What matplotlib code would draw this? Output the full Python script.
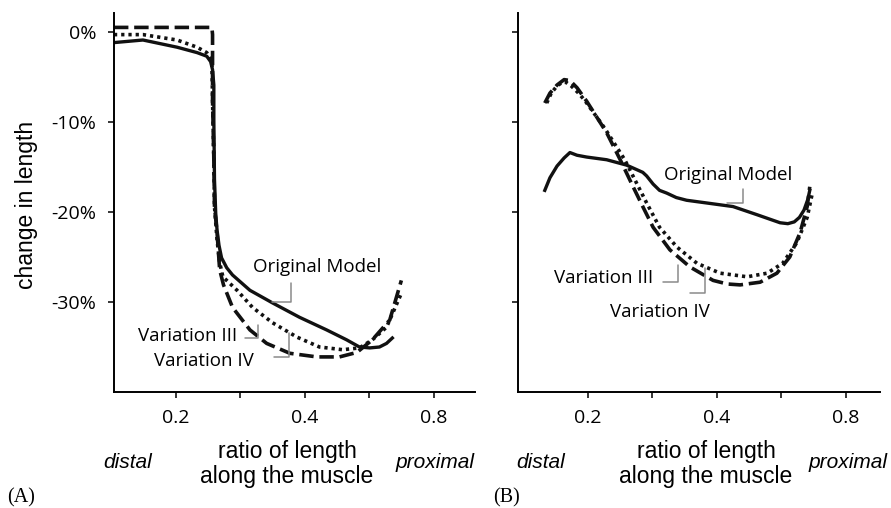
import matplotlib
matplotlib.use("Agg")
import matplotlib.pyplot as plt

# panel (A): ratio along muscle vs change in length (%)
a_orig_x = [0.102, 0.149, 0.202, 0.233, 0.248, 0.254, 0.257, 0.259, 0.259, 0.260, 0.262,
            0.264, 0.267, 0.271, 0.279, 0.288, 0.315, 0.350, 0.392, 0.434, 0.465, 0.485,
            0.501, 0.516, 0.527, 0.536]
a_orig_y = [-1.2, -0.9, -1.7, -2.3, -2.7, -3.3, -4.2, -5.9, -9.8, -16.4, -20.3,
            -22.0, -23.7, -25.1, -26.2, -27.0, -28.7, -30.1, -31.7, -33.1, -34.2, -35.0,
            -35.1, -35.0, -34.6, -34.0]

a_var3_x = [0.104, 0.149, 0.202, 0.233, 0.248, 0.256, 0.257, 0.259, 0.260, 0.264, 0.268,
            0.273, 0.295, 0.319, 0.350, 0.388, 0.423, 0.459, 0.485, 0.505, 0.527, 0.549]
a_var3_y = [-0.3, -0.3, -0.9, -1.7, -2.3, -3.3, -7.6, -14.2, -19.4, -23.1, -25.6,
            -27.2, -28.7, -30.6, -32.3, -33.9, -35.0, -35.3, -35.1, -34.2, -32.8, -29.2]

a_var4_x = [0.104, 0.256, 0.257, 0.257, 0.259, 0.260, 0.264, 0.268, 0.274, 0.288, 0.315,
            0.341, 0.377, 0.419, 0.454, 0.481, 0.505, 0.532, 0.550]
a_var4_y = [0.5, 0.5, -0.3, -7.6, -14.2, -19.4, -22.3, -26.4, -28.1, -30.6, -33.1,
            -34.6, -35.7, -36.1, -36.1, -35.6, -34.2, -32.0, -27.6]

# panel (B)
b_orig_x = [0.133, 0.141, 0.152, 0.163, 0.172, 0.183, 0.198, 0.229, 0.260, 0.285, 0.291,
            0.301, 0.311, 0.322, 0.337, 0.353, 0.384, 0.425, 0.462, 0.498, 0.510, 0.520,
            0.528, 0.535, 0.541, 0.544]
b_orig_y = [-17.6, -16.2, -14.9, -14.0, -13.4, -13.7, -13.9, -14.2, -14.8, -15.6, -16.0,
            -16.9, -17.6, -17.9, -18.4, -18.7, -19.0, -19.4, -20.3, -21.2, -21.3, -21.1,
            -20.6, -19.8, -18.6, -17.6]

b_var3_x = [0.136, 0.143, 0.152, 0.160, 0.166, 0.174, 0.184, 0.195, 0.226, 0.257, 0.291,
            0.311, 0.338, 0.369, 0.405, 0.447, 0.478, 0.502, 0.524, 0.540, 0.548]
b_var3_y = [-7.9, -6.8, -6.0, -5.6, -5.6, -6.0, -6.7, -7.6, -10.7, -14.2, -19.0,
            -21.7, -23.9, -25.7, -26.8, -27.2, -26.8, -25.7, -23.4, -20.6, -17.9]

b_var4_x = [0.133, 0.141, 0.152, 0.163, 0.172, 0.183, 0.198, 0.229, 0.250, 0.270, 0.285,
            0.301, 0.327, 0.358, 0.394, 0.416, 0.436, 0.467, 0.493, 0.513, 0.529, 0.540,
            0.544]
b_var4_y = [-7.9, -6.8, -5.9, -5.3, -5.4, -6.2, -7.7, -11.2, -14.2, -17.2, -19.4,
            -21.7, -24.2, -26.1, -27.6, -28.0, -28.1, -27.8, -26.8, -25.0, -22.3, -19.4,
            -17.2]

x_ticks = [0.2, 0.3, 0.4, 0.5, 0.6]
x_tick_labels = ["0.2", "", "0.4", "", "0.8"]
y_ticks = [0, -10, -20, -30]
y_tick_labels = ["0%", "-10%", "-20%", "-30%"]

sans = ["Open Sans", "DejaVu Sans"]
arial = ["Liberation Sans", "DejaVu Sans"]
lead = "#8a8a8a"

fig = plt.figure(figsize=(8.91, 5.08), dpi=100)
ax_a = fig.add_axes([0.1279, 0.2283, 0.405, 0.7461])
ax_b = fig.add_axes([0.5814, 0.2283, 0.4063, 0.7461])


def style(ax, xlim, show_ylabels):
    ax.set_xlim(*xlim)
    ax.set_ylim(-40, 2.1)
    for s in ["top", "right"]:
        ax.spines[s].set_visible(False)
    for s in ["left", "bottom"]:
        ax.spines[s].set_linewidth(1.4)
    ax.set_xticks(x_ticks)
    ax.set_xticklabels(x_tick_labels, family=sans, fontsize=14)
    ax.set_yticks(y_ticks)
    if show_ylabels:
        ax.set_yticklabels(y_tick_labels, family=sans, fontsize=14)
    else:
        ax.set_yticklabels([])
    ax.tick_params(direction="out", length=4.5, width=1.1, pad=8)


def lines(ax, ox, oy, x3, y3, x4, y4):
    ax.plot(ox, oy, color="#111111", lw=2.4, solid_joinstyle="round")
    ax.plot(x3, y3, color="#111111", lw=2.6, linestyle=(0, (0.9, 1.1)))
    ax.plot(x4, y4, color="#111111", lw=2.6, linestyle=(0, (4, 1.6)))


def leader(ax, xy, start, corner):
    ax.annotate("", xy=xy, xytext=start,
                arrowprops=dict(arrowstyle="-", color=lead, lw=1.1, shrinkA=0, shrinkB=0,
                                connectionstyle=corner))


style(ax_a, (0.104, 0.664), True)
lines(ax_a, a_orig_x, a_orig_y, a_var3_x, a_var3_y, a_var4_x, a_var4_y)
ax_a.text(0.420, -26.1, "Original Model", family=sans, fontsize=13.5, ha="center", va="center")
leader(ax_a, (0.350, -30.0), (0.378, -27.9), "angle,angleA=90,angleB=0,rad=0")
ax_a.text(0.2946, -33.8, "Variation III", family=sans, fontsize=13.5, ha="right", va="center")
leader(ax_a, (0.327, -32.6), (0.307, -34.0), "angle,angleA=0,angleB=90,rad=0")
ax_a.text(0.3210, -36.6, "Variation IV", family=sans, fontsize=13.5, ha="right", va="center")
leader(ax_a, (0.375, -33.4), (0.352, -36.1), "angle,angleA=0,angleB=90,rad=0")

style(ax_b, (0.0915, 0.653), False)
lines(ax_b, b_orig_x, b_orig_y, b_var3_x, b_var3_y, b_var4_x, b_var4_y)
ax_b.text(0.417, -15.9, "Original Model", family=sans, fontsize=13.5, ha="center", va="center")
leader(ax_b, (0.416, -19.0), (0.440, -17.4), "angle,angleA=90,angleB=0,rad=0")
ax_b.text(0.301, -27.3, "Variation III", family=sans, fontsize=13.5, ha="right", va="center")
leader(ax_b, (0.340, -25.9), (0.316, -27.8), "angle,angleA=0,angleB=90,rad=0")
ax_b.text(0.3885, -31.1, "Variation IV", family=sans, fontsize=13.5, ha="right", va="center")
leader(ax_b, (0.381, -26.2), (0.358, -29.0), "angle,angleA=0,angleB=90,rad=0")

W, H = 891.0, 508.0


def ftext(px, py, s, **kw):
    fig.text(px / W, 1 - py / H, s, ha="center", va="center", **kw)


ftext(27, 205, "change in length", rotation=90, family=arial, fontsize=16.5)
for cx, dx, px in [(287, 128, 435), (706, 541, 848)]:
    ftext(cx, 464, "ratio of length\nalong the muscle", family=arial, fontsize=16.5,
          linespacing=1.15)
    ftext(dx, 463, "distal", family=arial, fontsize=15, style="italic")
    ftext(px, 463, "proximal", family=arial, fontsize=15, style="italic")
ftext(21, 498, "(A)", family=["Liberation Serif", "DejaVu Serif"], fontsize=14.5)
ftext(507, 498, "(B)", family=["Liberation Serif", "DejaVu Serif"], fontsize=14.5)

fig.savefig("out.png", dpi=100)
